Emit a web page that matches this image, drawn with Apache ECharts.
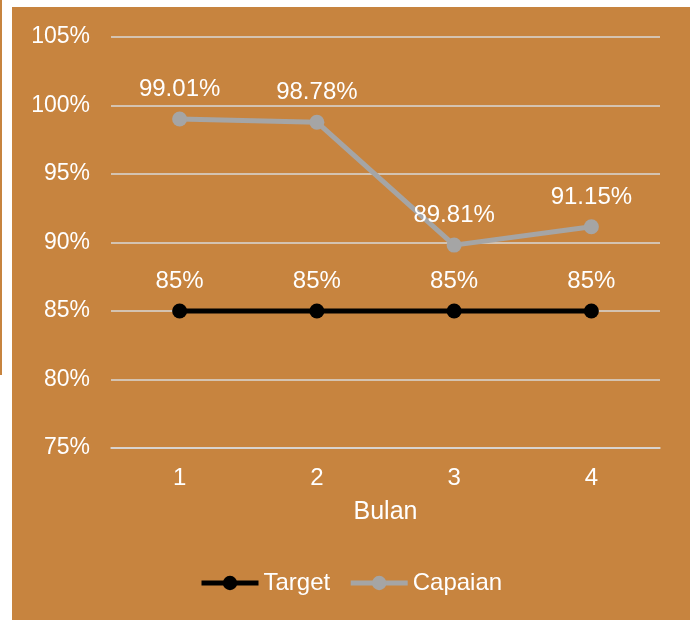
<!DOCTYPE html>
<html>
<head>
<meta charset="UTF-8">
<title>Target vs Capaian</title>
<script src="https://cdn.jsdelivr.net/npm/echarts@6/dist/echarts.min.js"></script>
<style type="text/css">
	html, body { margin: 0; padding: 0; background: #ffffff; }
	#main { width: 692px; height: 620px; }
</style>
</head>
<body>
<div id="main"></div>
<script type="text/javascript">
	var bulan = ['1', '2', '3', '4']
	var target = [85, 85, 85, 85]
	var capaian = [99.01, 98.78, 89.81, 91.15]
	var yMin = 75, yMax = 105, yStep = 5

	var orange = '#C7843F'
	var font = 'Liberation Sans, Arial, sans-serif'

	var myChart = echarts.init(document.getElementById('main'));
	var option = {
		backgroundColor: '#ffffff',
		textStyle: { fontFamily: font },
		graphic: [
			// panel behind the chart
			{ type: 'rect', z: -10, shape: { x: 12, y: 7, width: 678, height: 620 }, style: { fill: orange } },
			// strip of the neighbouring shape at the left edge
			{ type: 'rect', z: -10, shape: { x: 0, y: 0, width: 2, height: 375 }, style: { fill: orange } }
		],
		grid: { left: 111, right: 32, top: 37, bottom: 172 },
		legend: {
			bottom: 25,
			left: 199,
			padding: 0,
			itemWidth: 57,
			itemHeight: 18,
			itemGap: 18,
			textStyle: { color: '#ffffff', fontSize: 24, fontFamily: font },
			data: [
				{ name: 'Target', lineStyle: { width: 5 } },
				{ name: 'Capaian', lineStyle: { width: 5 } }
			]
		},
		xAxis: {
			type: 'category',
			data: bulan,
			name: 'Bulan',
			nameLocation: 'middle',
			nameGap: 52,
			nameTextStyle: { color: '#ffffff', fontSize: 25, fontFamily: font },
			axisLine: { lineStyle: { color: '#D9D9D9', width: 1.5 } },
			axisTick: { show: false },
			axisLabel: { color: '#ffffff', fontSize: 24, margin: 18, fontFamily: font }
		},
		yAxis: {
			type: 'value',
			min: yMin,
			max: yMax,
			interval: yStep,
			axisLine: { show: false },
			axisTick: { show: false },
			splitLine: { lineStyle: { color: '#D9D9D9', width: 1.5 } },
			axisLabel: { color: '#ffffff', fontSize: 23, margin: 21, formatter: '{value}%', fontFamily: font }
		},
		series: [
			{
				name: 'Target',
				type: 'line',
				data: target,
				symbol: 'circle',
				symbolSize: 15,
				itemStyle: { color: '#000000' },
				lineStyle: { color: '#000000', width: 5 },
				label: { show: true, position: 'top', distance: 10, color: '#ffffff', fontSize: 24, fontFamily: font, formatter: '{c}%' },
				z: 3
			},
			{
				name: 'Capaian',
				type: 'line',
				data: capaian,
				symbol: 'circle',
				symbolSize: 15,
				itemStyle: { color: '#A5A5A5' },
				lineStyle: { color: '#A5A5A5', width: 5 },
				label: { show: true, position: 'top', distance: 10, color: '#ffffff', fontSize: 24, fontFamily: font, formatter: '{c}%' },
				z: 2
			}
		]
	};
	myChart.setOption(option);
</script>
</body>
</html>
